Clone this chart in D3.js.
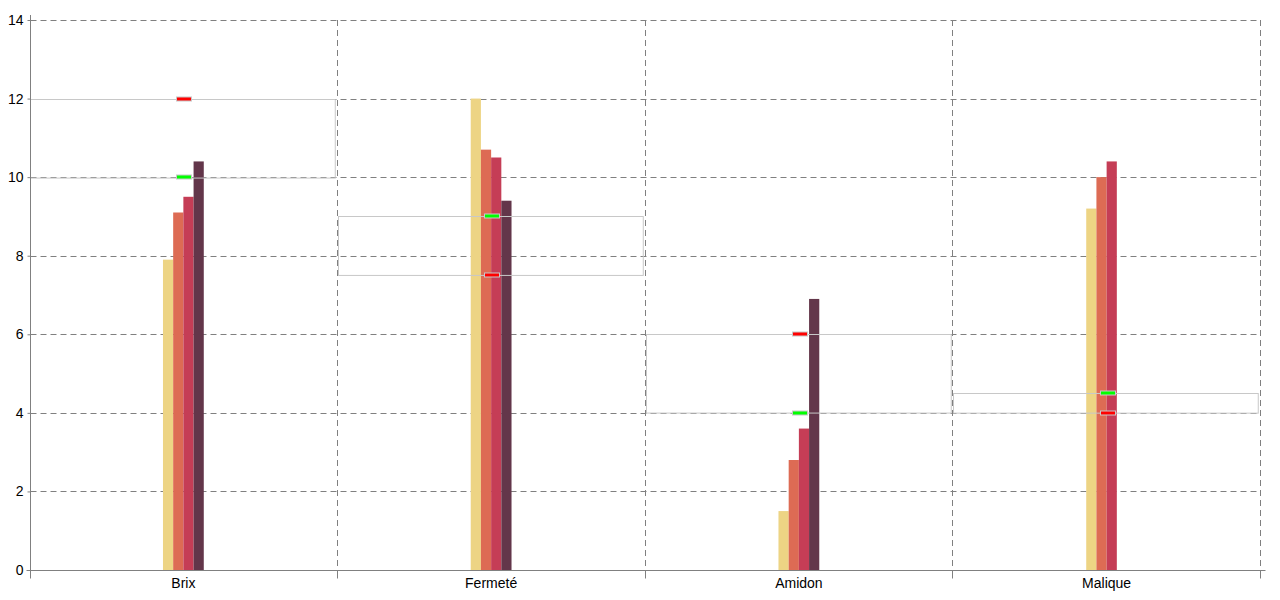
<!DOCTYPE html>
<html>
<head>
<meta charset="utf-8">
<script src="https://cdn.jsdelivr.net/npm/d3@7"></script>
<style>
  body { margin: 0; background: #fff; }
  svg text { font-family: "Liberation Sans", Arial, sans-serif; }
</style>
</head>
<body>
<div id="chart"></div>
<script>
(function () {
    'use strict';

    // data
    var categories = ['Brix', 'Fermeté', 'Amidon', 'Malique'];
    var seriesColors = ['#edd484', '#dd6b54', '#c53d56', '#63364a'];
    var series1 = [7.9, 12.0, 1.5, 9.2];
    var series2 = [9.1, 10.7, 2.8, 10.0];
    var series3 = [9.5, 10.5, 3.6, 10.4];
    var series4 = [10.4, 9.4, 6.9, 0];
    var greenMarks = [10, 9, 4, 4.5];
    var redMarks = [12, 7.5, 6, 4];
    var yTicks = [0, 2, 4, 6, 8, 10, 12, 14];

    var allSeries = [series1, series2, series3, series4];

    var w = 1280, h = 600;
    var m = { top: 20, right: 19.5, bottom: 30, left: 29.5 };

    var svg = d3.select('#chart').append('svg')
                .attr('width', w)
                .attr('height', h);

    var x = d3.scaleBand()
              .domain(categories)
              .range([m.left, w - m.right]);

    var y = d3.scaleLinear()
              .domain([0, 14])
              .range([h - m.bottom, m.top]);

    var barW = 10.2;
    var axisX = 30.5;

    // dashed grid
    var grid = svg.append('g').attr('stroke', '#808080').attr('stroke-dasharray', '6,4');
    grid.selectAll('line.h')
        .data(yTicks.filter(function (d) { return d > 0; }))
        .enter().append('line')
        .attr('x1', axisX).attr('x2', w - m.right)
        .attr('y1', function (d) { return Math.round(y(d)) + 0.5; })
        .attr('y2', function (d) { return Math.round(y(d)) + 0.5; });
    grid.selectAll('line.v')
        .data(categories)
        .enter().append('line')
        .attr('x1', function (d) { return Math.floor(x(d) + x.bandwidth()) + 0.5; })
        .attr('x2', function (d) { return Math.floor(x(d) + x.bandwidth()) + 0.5; })
        .attr('y1', m.top)
        .attr('y2', h - m.bottom);

    // bars
    allSeries.forEach(function (vals, si) {
        svg.append('g').selectAll('rect')
           .data(vals)
           .enter().append('rect')
           .attr('x', function (d, i) {
               return x(categories[i]) + x.bandwidth() / 2 - 2 * barW + si * barW;
           })
           .attr('width', barW)
           .attr('y', function (d) { return y(d); })
           .attr('height', function (d) { return y(0) - y(d); })
           .attr('fill', seriesColors[si]);
    });

    // target ranges
    svg.append('g').selectAll('rect')
       .data(categories)
       .enter().append('rect')
       .attr('x', function (d) { return Math.floor(x(d)) + 1.5; })
       .attr('width', x.bandwidth() - 3)
       .attr('y', function (d, i) { return Math.round(y(Math.max(greenMarks[i], redMarks[i]))) + 0.5; })
       .attr('height', function (d, i) {
           return Math.abs(y(greenMarks[i]) - y(redMarks[i]));
       })
       .attr('fill', 'none')
       .attr('stroke', '#c8c8c8');

    // markers
    function drawMarks(vals, color) {
        svg.append('g').selectAll('rect')
           .data(vals)
           .enter().append('rect')
           .attr('x', function (d, i) { return Math.round(x(categories[i]) + x.bandwidth() / 2) - 6.5; })
           .attr('width', 15)
           .attr('y', function (d) { return Math.round(y(d)) - 2; })
           .attr('height', 4)
           .attr('fill', color)
           .attr('stroke', '#c8c8c8');
    }
    drawMarks(greenMarks, '#00ff00');
    drawMarks(redMarks, '#ff0000');

    // axes
    var yAxis = svg.append('g')
                   .attr('transform', 'translate(' + axisX + ',0)')
                   .call(d3.axisLeft(y).tickValues(yTicks).tickSize(3).tickPadding(4));
    yAxis.select('.domain').attr('d', 'M0,' + (m.top - 5) + 'V' + (h - m.bottom));

    var xAxis = svg.append('g')
                   .attr('transform', 'translate(0,' + (h - m.bottom + 0.5) + ')')
                   .call(d3.axisBottom(x).tickSize(0).tickPadding(8));
    xAxis.select('.domain').attr('d', 'M' + (axisX - 4) + ',0H' + (w - m.right + 5));

    // boundary ticks under the x axis
    var bounds = [axisX - 0.5].concat(categories.map(function (d) { return Math.floor(x(d) + x.bandwidth()); }));
    xAxis.selectAll('line.bound')
         .data(bounds)
         .enter().append('line')
         .attr('x1', function (d) { return d + 0.5; })
         .attr('x2', function (d) { return d + 0.5; })
         .attr('y1', 0).attr('y2', 8)
         .attr('stroke', '#808080');

    svg.selectAll('.domain, .tick line').attr('stroke', '#808080');
    svg.selectAll('.tick text').attr('fill', '#000').attr('font-size', 14)
       .attr('font-family', '"Liberation Sans", Arial, sans-serif');
})();
</script>
</body>
</html>
